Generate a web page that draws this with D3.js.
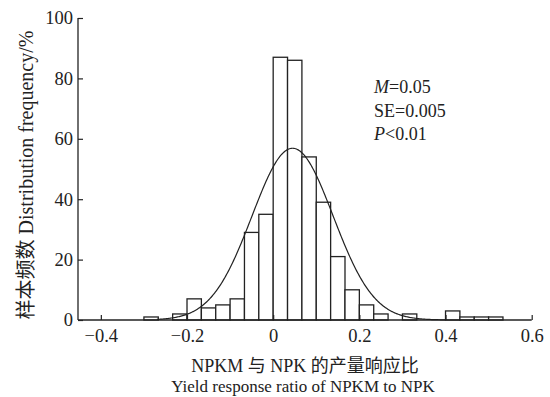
<!DOCTYPE html>
<html>
<head>
<meta charset="utf-8">
<script src="https://cdn.jsdelivr.net/npm/d3@7"></script>
<style>
  body { margin: 0; background: #fff; }
  text { font-family: "Liberation Serif", "Noto Sans CJK SC", serif; fill: #222; }
</style>
</head>
<body>
<svg id="chart" width="550" height="397"></svg>
<script>
// histogram bins: start of each bin (bin width 1/30) and counts
const binWidth = 1 / 30;
const binStarts = [-9, -8, -7, -6, -5, -4, -3, -2, -1, 0, 1, 2, 3, 4, 5, 6, 7, 8, 9, 10, 11, 12, 13, 14, 15]
    .map(k => k * binWidth);
const binCounts = [1, 0, 2, 7, 4, 5, 7, 29, 35, 87, 86, 54, 39, 21, 10, 5, 2, 0, 2, 0, 0, 3, 1, 1, 1];

// fitted normal curve
const fitMean = 0.045;
const fitSd = 0.094;
const fitRange = [-0.27, 0.4];

const xTicks = [-0.4, -0.2, 0, 0.2, 0.4, 0.6];
const yTicks = [0, 20, 40, 60, 80, 100];
const statLines = [["M", "=0.05"], ["SE", "=0.005"], ["P", "<0.01"]];

const margin = { top: 18, right: 18, bottom: 77, left: 78 };
const svg = d3.select("#chart");
const width = +svg.attr("width") - margin.left - margin.right;
const height = +svg.attr("height") - margin.top - margin.bottom;
const g = svg.append("g").attr("transform", "translate(" + margin.left + "," + margin.top + ")");

let xScale = d3.scaleLinear().domain([-0.453, 0.6]).range([0, 453.7]);
let yScale = d3.scaleLinear().domain([0, 100]).range([height, 0]);

// bars
g.selectAll("rect.bar")
    .data(binStarts.map((s, i) => ({ x0: s, n: binCounts[i] })).filter(d => d.n > 0))
    .enter().append("rect")
    .attr("class", "bar")
    .attr("x", d => xScale(d.x0))
    .attr("y", d => yScale(d.n))
    .attr("width", d => xScale(d.x0 + binWidth) - xScale(d.x0))
    .attr("height", d => yScale(0) - yScale(d.n))
    .attr("fill", "#fff")
    .attr("stroke", "#222")
    .attr("stroke-width", 1.3);

// normal curve scaled to counts
let total = d3.sum(binCounts);
let curvePts = d3.range(fitRange[0], fitRange[1] + 1e-9, 0.002).map(x => ({
    x: x,
    y: total * binWidth / (fitSd * Math.sqrt(2 * Math.PI)) * Math.exp(-((x - fitMean) ** 2) / (2 * fitSd * fitSd))
}));
g.append("path")
    .datum(curvePts)
    .attr("fill", "none")
    .attr("stroke", "#222")
    .attr("stroke-width", 1.2)
    .attr("d", d3.line().x(d => xScale(d.x)).y(d => yScale(d.y)));

// axes with inward ticks
let xAxis = d3.axisBottom(xScale).tickValues(xTicks).tickSize(-5).tickPadding(9)
    .tickFormat(d => d === 0 ? "0" : d3.format(".1f")(d).replace("-", "\u2212"));
let yAxis = d3.axisLeft(yScale).tickValues(yTicks).tickSize(-5).tickPadding(5);

let xg = g.append("g").attr("transform", "translate(0," + height + ")").call(xAxis);
let yg = g.append("g").call(yAxis);
[xg, yg].forEach(a => {
    a.select(".domain").attr("stroke", "#222").attr("stroke-width", 1.3);
    a.selectAll(".tick line").attr("stroke", "#222").attr("stroke-width", 1.2);
    a.selectAll(".tick text").attr("font-size", 18.5).attr("fill", "#222")
        .style("font-family", "Liberation Serif");
});
xg.select(".domain").attr("d", "M0,0H" + xScale(0.6));
yg.select(".domain").attr("d", "M0,0V" + height);

// stats annotation
statLines.forEach((s, i) => {
    let t = g.append("text")
        .attr("x", 296)
        .attr("y", 75 + i * 23.5)
        .attr("font-size", 18);
    t.append("tspan").attr("font-style", i === 1 ? "normal" : "italic").text(s[0]);
    t.append("tspan").text(s[1]);
});

// axis titles
svg.append("text")
    .attr("transform", "translate(33,175) rotate(-90)")
    .attr("text-anchor", "middle")
    .attr("font-size", 20)
    .text("样本频数 Distribution frequency/%");

svg.append("text")
    .attr("x", 305)
    .attr("y", 372)
    .attr("text-anchor", "middle")
    .attr("font-size", 18)
    .text("NPKM 与 NPK 的产量响应比");

svg.append("text")
    .attr("x", 303)
    .attr("y", 392)
    .attr("text-anchor", "middle")
    .attr("font-size", 17)
    .text("Yield response ratio of NPKM to NPK");
</script>
</body>
</html>
